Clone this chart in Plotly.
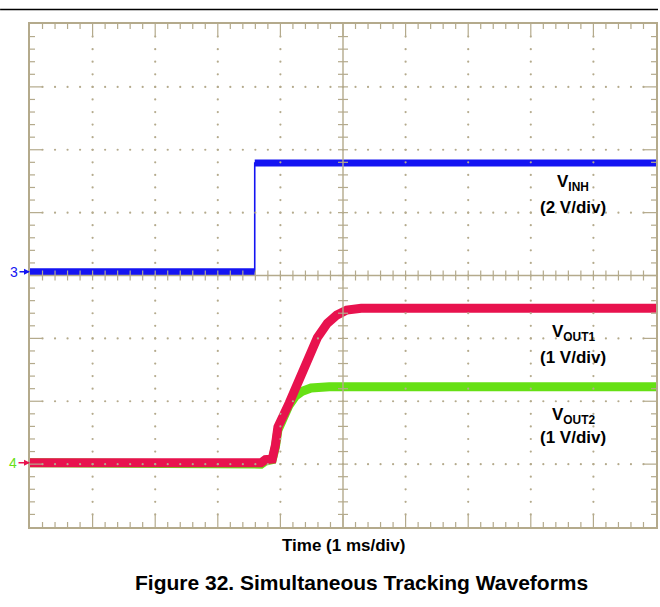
import plotly.graph_objects as go

# ---------------- data (scope screen divisions: 10 x 8) ----------------
# V_INH (channel 3, blue)
blue_t = [0.0, 3.59, 3.59, 10.0]
blue_v = [4.06, 4.06, 5.79, 5.79]
# V_OUT1 (channel 4, red)
red_t = [0.0, 3.69, 3.76, 3.87, 3.92, 3.96, 4.14, 4.38, 4.59, 4.75, 4.90, 5.06, 5.29, 5.81, 10.0]
red_v = [1.02, 1.02, 1.07, 1.08, 1.30, 1.59, 1.97, 2.50, 3.01, 3.24, 3.37, 3.45, 3.48, 3.48, 3.48]
# V_OUT2 (green)
green_t = [0.0, 3.69, 3.76, 3.87, 3.92, 3.96, 4.14, 4.24, 4.35, 4.49, 4.78, 10.0]
green_v = [1.02, 1.00, 1.05, 1.07, 1.27, 1.54, 1.94, 2.08, 2.16, 2.21, 2.23, 2.23]

labels = ["V<sub>INH</sub>", "(2 V/div)", "V<sub>OUT1</sub>", "(1 V/div)",
          "V<sub>OUT2</sub>", "(1 V/div)"]
label_y = [5.47, 5.08, 3.09, 2.70, 1.77, 1.42]
label_x = 8.68

N_X, N_Y = 10, 8
BLUE = "#1414f2"
RED = "#e8124e"
GREEN = "#66e014"
TAN = "#b4aa8c"
FONT = "Arial, 'Liberation Sans', sans-serif"

fig = go.Figure()

# thick noisy bands for traces
fig.add_trace(go.Scatter(x=green_t, y=green_v, mode="lines",
                         line=dict(color=GREEN, width=9), hoverinfo="skip"))
fig.add_trace(go.Scatter(x=red_t, y=red_v, mode="lines",
                         line=dict(color=RED, width=9), hoverinfo="skip"))
# blue: thin full trace + thick band on the flat (non-vertical) parts
fig.add_trace(go.Scatter(x=blue_t, y=blue_v, mode="lines",
                         line=dict(color=BLUE, width=1.6), hoverinfo="skip"))
bt, bv = [], []
for i in range(len(blue_t) - 1):
    if blue_t[i + 1] > blue_t[i]:
        bt += [blue_t[i], blue_t[i + 1], None]
        bv += [blue_v[i], blue_v[i + 1], None]
fig.add_trace(go.Scatter(x=bt, y=bv, mode="lines",
                         line=dict(color=BLUE, width=7), hoverinfo="skip"))

# dotted graticule
dx, dy = [], []
for k in range(1, N_X):
    if k == N_X // 2:
        continue
    for j in range(1, N_Y * 5):
        dx.append(k)
        dy.append(j / 5)
for k in range(1, N_Y):
    if k == N_Y // 2:
        continue
    for j in range(1, N_X * 5):
        dx.append(j / 5)
        dy.append(k)
fig.add_trace(go.Scatter(x=dx, y=dy, mode="markers",
                         marker=dict(color=TAN, size=2.2), hoverinfo="skip"))

shapes = []
def tick(**kw):
    d = dict(type="line", xref="x", yref="y", layer="above",
             line=dict(color=TAN, width=1.2))
    d.update(kw)
    shapes.append(d)

# border ticks
for j in range(1, N_X * 5):
    t = j / 5
    L = 12 if j % 5 == 0 else 5
    tick(x0=t, x1=t, ysizemode="pixel", yanchor=0, y0=0, y1=L)
    tick(x0=t, x1=t, ysizemode="pixel", yanchor=N_Y, y0=-L, y1=0)
    tick(x0=t, x1=t, ysizemode="pixel", yanchor=N_Y / 2, y0=-5, y1=5)
for j in range(1, N_Y * 5):
    v = j / 5
    L = 12 if j % 5 == 0 else 5
    tick(y0=v, y1=v, xsizemode="pixel", xanchor=0, x0=0, x1=L)
    tick(y0=v, y1=v, xsizemode="pixel", xanchor=N_X, x0=-L, x1=0)
    tick(y0=v, y1=v, xsizemode="pixel", xanchor=N_X / 2, x0=-5, x1=5)
# center cross lines
tick(x0=0, x1=N_X, y0=N_Y / 2, y1=N_Y / 2, line=dict(color=TAN, width=1.4))
tick(x0=N_X / 2, x1=N_X / 2, y0=0, y1=N_Y, line=dict(color=TAN, width=1.4))
# top black rule
shapes.append(dict(type="line", xref="paper", yref="paper",
                   x0=-30 / 628, x1=630 / 628, y0=1 + 14.5 / 503, y1=1 + 14.5 / 503,
                   line=dict(color="black", width=1.5)))

annotations = []
for txt, yv in zip(labels, label_y):
    annotations.append(dict(x=label_x, y=yv, xref="x", yref="y", text="<b>" + txt + "</b>",
                            showarrow=False, font=dict(family=FONT, size=17, color="black")))
annotations.append(dict(x=0.5, y=-(545 - 527) / 503, xref="paper", yref="paper",
                        yanchor="middle", text="<b>Time (1 ms/div)</b>", showarrow=False,
                        font=dict(family=FONT, size=17, color="black")))
annotations.append(dict(x=(363 - 30) / 628, y=-(582 - 527) / 503, xref="paper", yref="paper",
                        yanchor="middle",
                        text="<b>Figure 32. Simultaneous Tracking Waveforms</b>", showarrow=False,
                        font=dict(family=FONT, size=21, color="black")))
# channel markers
annotations.append(dict(x=0, y=blue_v[0], xref="x", yref="y", text="3", showarrow=True,
                        ax=-16, ay=0, arrowcolor=BLUE, arrowwidth=1.5, arrowhead=2,
                        arrowsize=0.8, standoff=0, font=dict(family=FONT, size=14, color=BLUE)))
annotations.append(dict(x=0, y=red_v[0], xref="x", yref="y", text="4", showarrow=True,
                        ax=-17, ay=0, arrowcolor=RED, arrowwidth=1.5, arrowhead=2,
                        arrowsize=0.8, standoff=0, font=dict(family=FONT, size=14, color=GREEN)))

fig.update_layout(
    width=660, height=607,
    margin=dict(l=30, r=2, t=24, b=80),
    paper_bgcolor="white", plot_bgcolor="white",
    showlegend=False,
    shapes=shapes, annotations=annotations,
    xaxis=dict(range=[0, N_X], showgrid=False, zeroline=False, showticklabels=False,
               ticks="", showline=True, mirror=True, linecolor=TAN, linewidth=2),
    yaxis=dict(range=[0, N_Y], showgrid=False, zeroline=False, showticklabels=False,
               ticks="", showline=True, mirror=True, linecolor=TAN, linewidth=2),
)
fig.write_html("out.html", config={"displayModeBar": False},
               post_script="document.body.style.margin='0';")
